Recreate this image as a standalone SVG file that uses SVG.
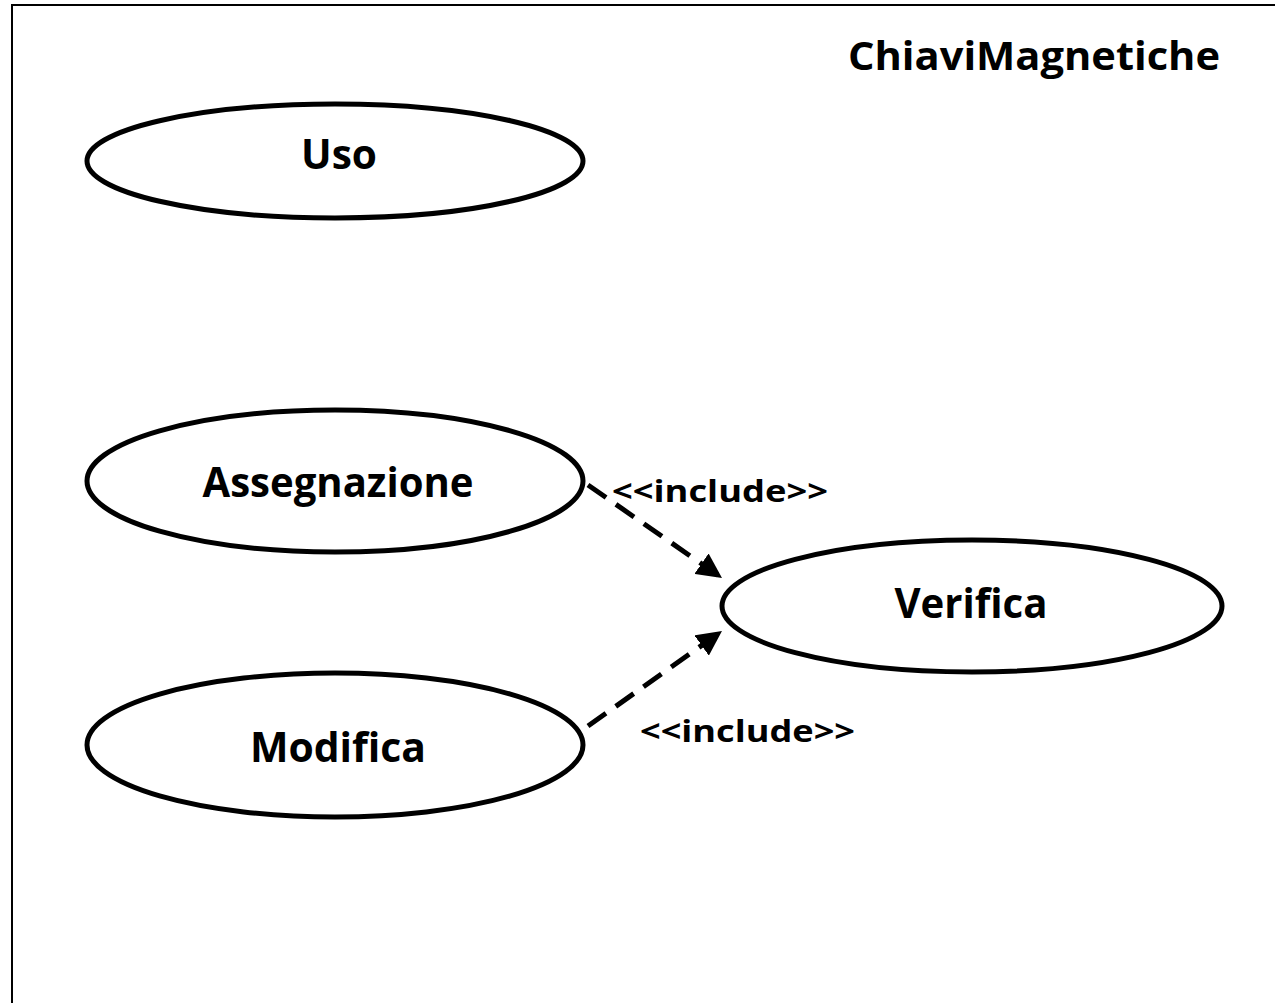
<svg xmlns="http://www.w3.org/2000/svg" width="1275" height="1003" viewBox="0 0 1275 1003">
<defs>
<style>
.uc{fill:#fff;stroke:#000;stroke-width:5}
.lbl{font-family:"Open Sans","Noto Sans","Liberation Sans",sans-serif;font-weight:bold;fill:#000;text-anchor:middle}
.inc{font-family:"Open Sans","Noto Sans","Liberation Sans",sans-serif;font-weight:bold;fill:#000;font-size:31px}
.dep{fill:none;stroke:#000;stroke-width:5;stroke-dasharray:22 12}
</style>
<marker id="arr" viewBox="0 0 10 10" refX="10" refY="5" markerWidth="5" markerHeight="5" markerUnits="strokeWidth" orient="auto">
<path d="M0,0 L10,5 L0,10 Z" fill="#000"/>
</marker>
</defs>
<rect width="1275" height="1003" fill="#fff"/>
<path id="frame" d="M12,1003 V5 H1275" fill="none" stroke="#000" stroke-width="2"/>
<text id="title" x="848" y="70" class="inc" style="font-size:39px" textLength="372" lengthAdjust="spacingAndGlyphs">ChiaviMagnetiche</text>
<g id="connectors">
<line class="dep" x1="588" y1="485" x2="722" y2="578" marker-end="url(#arr)"/>
<line class="dep" x1="588" y1="726" x2="722" y2="631" marker-end="url(#arr)"/>
<text x="612" y="502" class="inc" textLength="216" lengthAdjust="spacingAndGlyphs">&lt;&lt;include&gt;&gt;</text>
<text x="640" y="742" class="inc" textLength="215" lengthAdjust="spacingAndGlyphs">&lt;&lt;include&gt;&gt;</text>
</g>
<g id="uso">
<ellipse class="uc" cx="335" cy="161" rx="248" ry="57"/>
<text class="lbl" x="339" y="169" font-size="42" textLength="76" lengthAdjust="spacingAndGlyphs">Uso</text>
</g>
<g id="assegnazione">
<ellipse class="uc" cx="335" cy="481" rx="248" ry="71"/>
<text class="lbl" x="338" y="497" font-size="42" textLength="271" lengthAdjust="spacingAndGlyphs">Assegnazione</text>
</g>
<g id="modifica">
<ellipse class="uc" cx="335" cy="745" rx="248" ry="72"/>
<text class="lbl" x="338" y="762" font-size="42" textLength="176" lengthAdjust="spacingAndGlyphs">Modifica</text>
</g>
<g id="verifica">
<ellipse class="uc" cx="972" cy="606" rx="250" ry="66"/>
<text class="lbl" x="971" y="618" font-size="42" textLength="153" lengthAdjust="spacingAndGlyphs">Verifica</text>
</g>
</svg>
